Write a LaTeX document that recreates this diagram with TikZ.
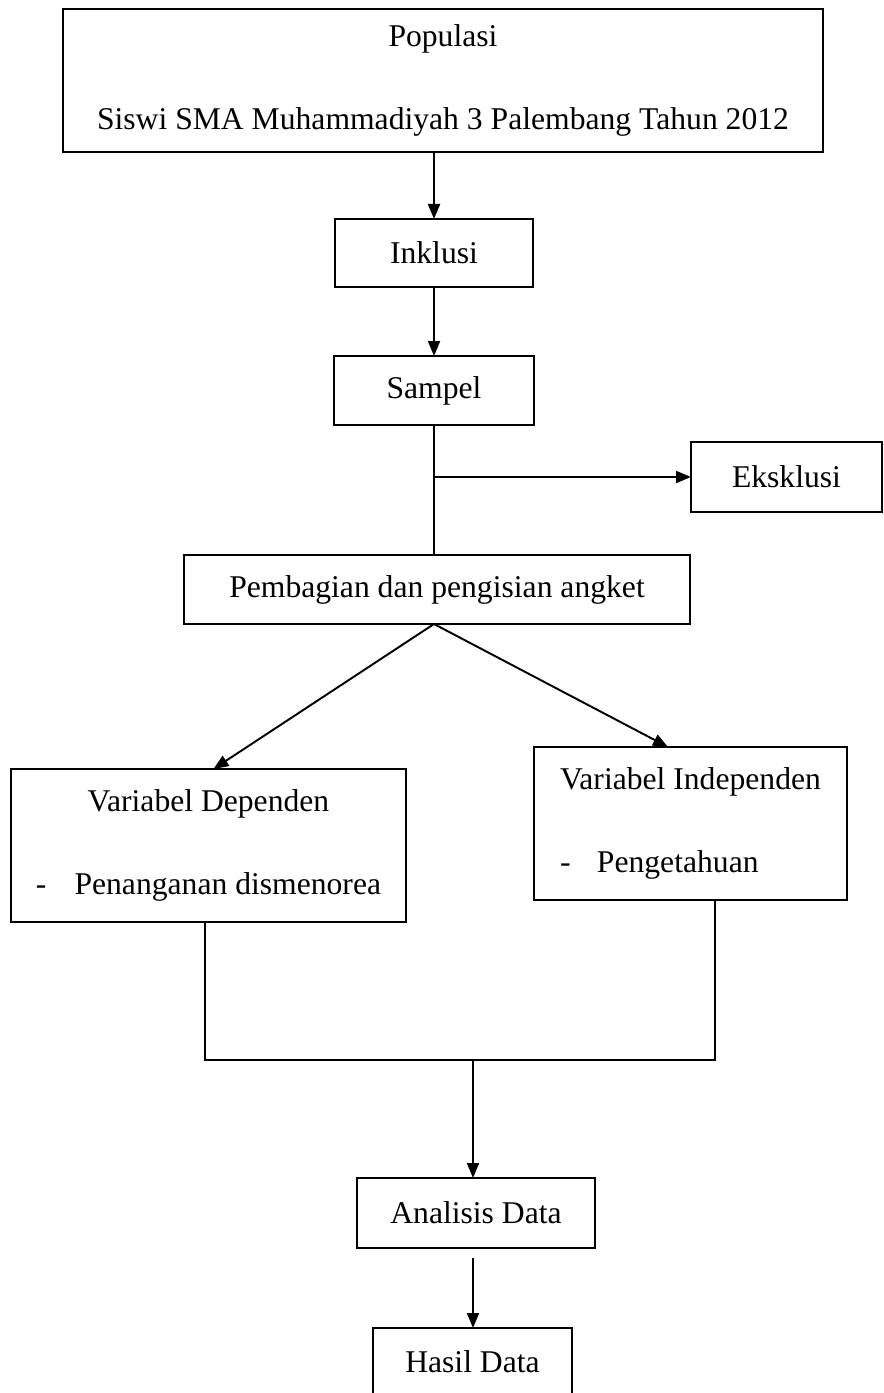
\documentclass[tikz,border=0pt]{standalone}
\usepackage{fontspec}
\setmainfont{Liberation Serif}
\usepackage{tikz}
\usetikzlibrary{arrows.meta}

\begin{document}
\begin{tikzpicture}[
        box/.style={draw,line width=1.1pt,inner sep=0pt,outer sep=0pt,
            font=\fontsize{18}{47}\selectfont},
        arr/.style={line width=1.1pt,-{Triangle[length=0.3cm,width=0.24cm]}},
        lin/.style={line width=1.1pt}]
        \useasboundingbox (0,0) rectangle (17.68,-27.86);

        \node[box,minimum width=15.2cm,minimum height=2.86cm,align=center] (pop) at (8.86,-1.61)
            {Populasi\\Siswi SMA Muhammadiyah 3 Palembang Tahun 2012};
        \node[box,minimum width=3.96cm,minimum height=1.36cm] (ink) at (8.68,-5.06) {Inklusi};
        \node[box,minimum width=4cm,minimum height=1.38cm] (samp) at (8.68,-7.81) {Sampel};
        \node[box,minimum width=3.82cm,minimum height=1.4cm] (eks) at (15.73,-9.54) {Eksklusi};
        \node[box,minimum width=10.12cm,minimum height=1.38cm] (pem) at (8.74,-11.79) {Pembagian dan pengisian angket};
        \node[box,minimum width=7.9cm,minimum height=3.06cm,align=center] (dep) at (4.17,-16.91)
            {Variabel Dependen\\-\hspace{16pt}Penanganan dismenorea};
        \node[box,minimum width=6.26cm,minimum height=3.06cm,align=left] (ind) at (13.81,-16.47)
            {Variabel Independen\\-\hspace{15pt}Pengetahuan};
        \node[box,minimum width=4.76cm,minimum height=1.4cm] (ana) at (9.52,-24.26) {Analisis Data};
        \node[box,minimum width=3.98cm,minimum height=1.36cm] (has) at (9.45,-27.24) {Hasil Data};
        \coordinate (merge) at (9.46,-21.2);

        \draw[arr] (pop.south -| ink.north) -- (ink.north);
        \draw[arr] (ink.south) -- (samp.north);
        \draw[lin] (samp.south) -- (samp.south |- pem.north);
        \draw[arr] (samp.south |- eks.west) -- (eks.west);
        \draw[arr] ([xshift=-0.06cm]pem.south) -- ([xshift=0.1cm]dep.north);
        \draw[arr] ([xshift=-0.06cm]pem.south) -- ([xshift=-0.45cm]ind.north);
        \draw[lin] ([xshift=-0.07cm]dep.south) |- (merge) -| ([xshift=0.49cm]ind.south);
        \draw[arr] (merge) -- (merge |- ana.north);
        \draw[arr] ([yshift=-0.2cm]merge |- ana.south) -- (merge |- has.north);
    \end{tikzpicture}
\end{document}
